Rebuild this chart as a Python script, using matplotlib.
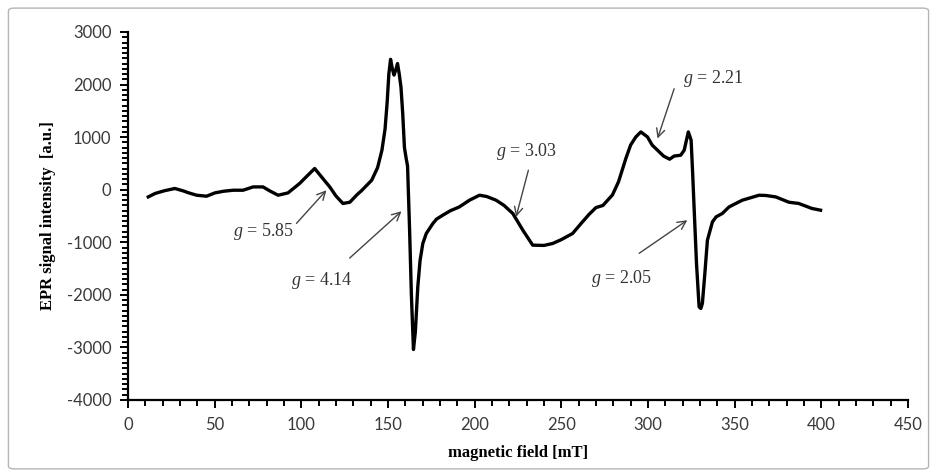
import matplotlib
matplotlib.use("Agg")
import matplotlib.pyplot as plt
from matplotlib.patches import FancyBboxPatch
from matplotlib.ticker import MultipleLocator

plt.rcParams['font.family'] = ['Lato', 'DejaVu Sans']
plt.rcParams['axes.unicode_minus'] = False
plt.rcParams['mathtext.fontset'] = 'custom'
plt.rcParams['mathtext.rm'] = 'Liberation Serif'
plt.rcParams['mathtext.it'] = 'Liberation Serif:italic'

# EPR spectrum: field [mT] vs intensity [a.u.]
field = [11.7, 15.6, 21, 27, 31.9, 35, 39.6, 45.3, 50.1, 55, 60.7, 66.4, 72.2, 77.9,
         81.8, 86.6, 92.3, 99, 103, 107.7, 112, 116.4, 120, 124, 128, 132, 135,
         140.6, 144, 146.5, 148.3, 149.5, 150.5, 151.5, 152.5, 153.5, 154.5, 155.5,
         156.5, 157.5, 158.5, 159.5, 160.5, 161.3, 162.5, 163.5, 164.7, 165.8,
         167.2, 168.5, 170.1, 172.1, 175.9, 178, 181.6, 186, 191.2, 197, 202.8,
         207, 212.4, 217, 222, 228, 233.5, 240, 245, 250, 256.5, 262, 266, 270,
         274, 279.5, 283, 287.3, 290, 293, 295.9, 299.7, 302.5, 306.5, 309, 312.5,
         315.1, 318.9, 320.9, 322.6, 323.3, 324.9, 325.8, 326.6, 328, 329.5, 330.5,
         331.4, 332.8, 334.3, 337.2, 339.3, 342.9, 346.8, 354.4, 358.3, 364.1, 368,
         373.7, 381.3, 387, 394.6, 399.6]
signal = [-137, -72, -20, 23, -23, -60, -105, -124, -61, -30, -10, -10, 53, 53,
          -23, -105, -61, 118, 250, 403, 230, 53, -120, -262, -238, -100, -10,
          180, 420, 750, 1150, 1650, 2200, 2480, 2300, 2180, 2280, 2400,
          2200, 1950, 1450, 800, 593, 450, -800, -2000, -3040, -2700,
          -1848, -1350, -1023, -833, -643, -560, -485, -400, -327, -200, -105,
          -130, -200, -300, -452, -780, -1055, -1060, -1023, -950, -833, -620, -470, -340,
          -300, -100, 150, 600, 850, 1004, 1099, 1004, 846, 719, 640, 580,
          640, 656, 751, 1000, 1099, 941, 300, -327, -1400, -2228, -2260,
          -2163, -1600, -960, -612, -517, -452, -327, -200, -162, -105, -110,
          -137, -238, -262, -357, -390]

# g-factor labels: text position and arrow tail/head in data units
g_labels = ['5.85', '4.14', '3.03', '2.21', '2.05']
g_text_xy = [(78, -800), (112, -1720), (230, 720), (337.6, 2110), (284.8, -1690)]
g_arrow_from = [(97.2, -640), (127.9, -1300), (231, 370), (315.1, 1920), (294.9, -1210)]
g_arrow_to = [(114.5, -10), (157.8, -410), (223.9, -517), (305.5, 973), (322.7, -580)]

serif = 'Liberation Serif'

fig = plt.figure(figsize=(9.37, 4.76), dpi=100)
ax = fig.add_axes([0.1366, 0.1597, 0.8324, 0.7731])

ax.plot(field, signal, color='black', lw=2.4, solid_joinstyle='round')

for lab, txy, a0, a1 in zip(g_labels, g_text_xy, g_arrow_from, g_arrow_to):
    ax.text(txy[0], txy[1], r'$g$' + ' = ' + lab, ha='center', va='center',
            fontsize=13, family=serif, color='#333333')
    ax.annotate('', xy=a1, xytext=a0,
                arrowprops=dict(arrowstyle='->', color='#444444', lw=1.0,
                                mutation_scale=15, shrinkA=0, shrinkB=0))

ax.set_xlim(0, 450)
ax.set_ylim(-4000, 3000)
ax.xaxis.set_major_locator(MultipleLocator(50))
ax.xaxis.set_minor_locator(MultipleLocator(10))
ax.yaxis.set_major_locator(MultipleLocator(1000))
ax.yaxis.set_minor_locator(MultipleLocator(100))

for s in ['top', 'right']:
    ax.spines[s].set_visible(False)
for s in ['left', 'bottom']:
    ax.spines[s].set_linewidth(1.6)

ax.tick_params(which='major', direction='out', length=6, width=1.4,
               labelsize=12, colors='black', labelcolor='#3a3a3a', pad=6)
ax.tick_params(which='minor', direction='out', length=4, width=1.4)

ax.set_xlabel('magnetic field [mT]', family=serif, fontweight='bold',
              fontsize=12, labelpad=9)
ax.set_ylabel('EPR signal intensity  [a.u.]', family=serif,
              fontweight='bold', fontsize=12, labelpad=8)

# light frame around the whole chart
frame = FancyBboxPatch((0.009, 0.015), 0.982, 0.968, boxstyle='round,pad=0,rounding_size=0.006',
                       transform=fig.transFigure, fill=False, edgecolor='#b5b5b5', lw=1.0)
fig.patches.append(frame)

fig.savefig('out.png', dpi=100)
